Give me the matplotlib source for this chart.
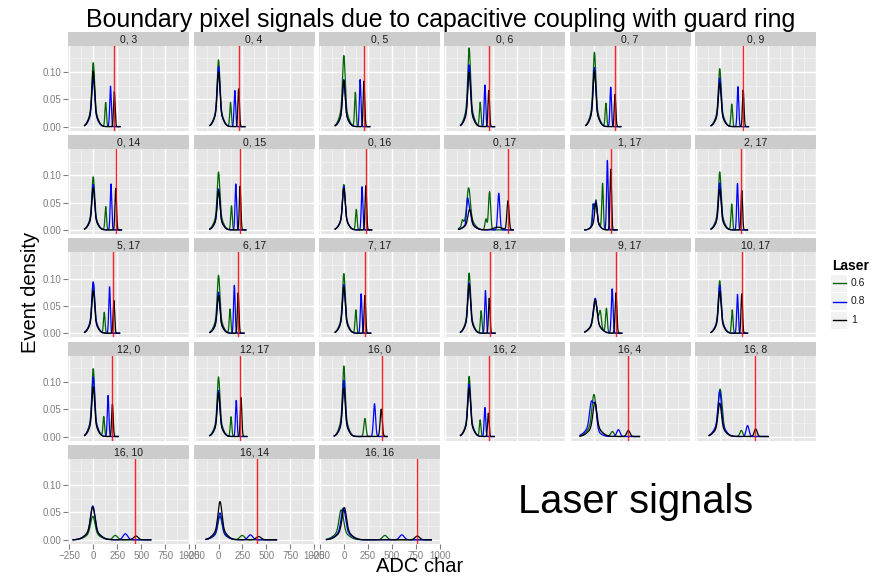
import numpy as np
import matplotlib
matplotlib.use("Agg")
import matplotlib.pyplot as plt
from matplotlib.patches import Rectangle
from matplotlib.lines import Line2D

plt.rcParams['font.family'] = ['Liberation Sans', 'DejaVu Sans']

# ---------------- data ----------------
panel_labels = ["0, 3", "0, 4", "0, 5", "0, 6", "0, 7", "0, 9",
                "0, 14", "0, 15", "0, 16", "0, 17", "1, 17", "2, 17",
                "5, 17", "6, 17", "7, 17", "8, 17", "9, 17", "10, 17",
                "12, 0", "12, 17", "16, 0", "16, 2", "16, 4", "16, 8",
                "16, 10", "16, 14", "16, 16"]

# laser-signal reference position (red line), ADC channel
red_line = [215, 215, 210, 210, 215, 240,
            240, 220, 230, 405, 170, 225,
            210, 205, 220, 215, 225, 230,
            195, 225, 395, 205, 345, 368,
            440, 404, 766]

laser_levels = ["0.6", "0.8", "1"]
laser_colors = ["#006400", "#0000FF", "#000000"]

# pedestal peak heights (density) per laser level
ped_h_06 = [.117, .122, .130, .144, .136, .106, .097, .106, .083, .077, .055, .106,
            .0925, .106, .109, .110, .058, .096, .124, .109, .129, .110, .077, .077,
            .043, .043, .055]
ped_h_08 = [.090, .110, .086, .113, .108, .089, .083, .075, .080, .040, .052, .086,
            .094, .075, .089, .092, .064, .0875, .109, .084, .103, .096, .064, .083,
            .062, .049, .058]
ped_h_1 = [.102, .100, .084, .099, .102, .080, .077, .072, .076, .0375, .049, .074,
           .078, .069, .085, .089, .061, .076, .091, .080, .089, .089, .062, .061,
           .060, .070, .059]
# pedestal peak positions per laser level
ped_pos_06 = [0] * 9 + [-5, 15] + [0] * 5 + [10] + [0] * 5 + [-5, 0, -5, 15, -27]
ped_pos_08 = [0] * 9 + [0, 15] + [0] * 5 + [8] + [0] * 5 + [-30, 0, -5, 15, -5]
ped_pos_1 = [0] * 9 + [5, 15] + [0] * 5 + [8] + [0] * 5 + [5, 0, -5, 15, 5]

# signal peak positions per laser level
sig_pos_06 = [130, 125, 120, 115, 120, 125, 130, 135, 130, 213, 85, 125,
              115, 120, 125, 125, 125, 130, 110, 130, 220, 115, 187, 225,
              230, 246, 428]
sig_pos_08 = [180, 170, 170, 165, 170, 190, 185, 180, 190, 309, 135, 185,
              170, 165, 180, 170, 185, 185, 155, 185, 320, 165, 250, 290,
              335, 332, 605]
sig_pos_1 = [220, 210, 210, 205, 215, 245, 235, 225, 230, 405, 170, 230,
             215, 205, 220, 210, 225, 230, 200, 235, 390, 200, 354, 375,
             445, 417, 766]
# signal peak heights per laser level
sig_h_06 = [.044, .044, .0625, .044, .0425, .041, .0425, .044, .0375, .070, .083, .047,
            .038, .044, .0425, .041, .044, .0425, .036, .036, .033, .030, .009, .011,
            .008, .008, .008]
sig_h_08 = [.074, .066, .086, .076, .072, .073, .084, .084, .079, .067, .127, .085,
            .085, .0875, .072, .078, .081, .071, .075, .066, .060, .053, .0125, .020,
            .011, .009, .009]
sig_h_1 = [.064, .069, .083, .066, .059, .067, .076, .080, .081, .053, .111, .072,
           .060, .074, .069, .064, .074, .072, .059, .071, .050, .0425, .011, .014,
           .007, .006, .007]

# peak widths (ADC channels) and data range per panel
ped_width = [13] * 9 + [17, 12] + [13] * 5 + [18] + [13] * 5 + [20, 17, 22, 20, 22]
sig_width = [8] * 9 + [11, 8] + [8] * 5 + [9] + [8] * 3 + [11, 8, 17, 15, 24, 25, 24]
range_lo = [-90, -90, -90, -90, -90, -90, -90, -90, -90, -110, -100, -90,
            -90, -90, -90, -90, -100, -90, -90, -90, -100, -90, -150, -110,
            -210, -130, -181]
range_hi = [280, 275, 270, 265, 275, 300, 295, 285, 290, 460, 235, 290,
            275, 265, 280, 270, 285, 290, 260, 295, 450, 260, 470, 505,
            600, 605, 913]

# extra features: (panel index, laser index, position, height, width)
extra_peaks = [(9, 0, -70, .009, 8), (9, 0, 175, .020, 10), (9, 1, -18, .030, 9),
               (9, 2, 300, .005, 45), (10, 0, -15, .035, 8), (10, 1, -10, .030, 8),
               (16, 0, 60, .030, 12), (22, 1, 10, .040, 15), (23, 0, 20, .02, 15)]

x_ticks = [-250, 0, 250, 500, 750, 1000]
x_tick_labels = ["\u2212250", "0", "250", "500", "750", "1000"]
y_ticks = [0.0, 0.05, 0.10]
y_tick_labels = ["0.00", "0.05", "0.10"]

# ---------------- figure ----------------
W, H = 875, 576
fig = plt.figure(figsize=(W / 100, H / 100), dpi=100)


def fx(px):
    return px / W


def fy(py):
    return 1 - py / H


xs = np.linspace(-300, 1050, 2701)


def ped_shape(x, mu, h, s):
    return h * (0.72 * np.exp(-0.5 * ((x - mu) / s) ** 2)
                + 0.28 * np.exp(-0.5 * ((x - mu) / (3 * s)) ** 2))


def sig_shape(x, mu, h, s):
    return h * np.exp(-0.5 * ((x - mu) / s) ** 2)


ped_h = [ped_h_06, ped_h_08, ped_h_1]
ped_pos = [ped_pos_06, ped_pos_08, ped_pos_1]
sig_pos = [sig_pos_06, sig_pos_08, sig_pos_1]
sig_h = [sig_h_06, sig_h_08, sig_h_1]

grey50 = "#7F7F7F"
for i, lab in enumerate(panel_labels):
    r, c = divmod(i, 6)
    left = 68.3 + c * 125.3
    strip_top = 31.7 + r * 103.3
    ax_top = strip_top + 14
    ax = fig.add_axes([fx(left), fy(ax_top + 85), 121 / W, 85 / H])
    sax = fig.add_axes([fx(left), fy(ax_top), 121 / W, 14 / H])
    sax.set_facecolor("#CCCCCC")
    sax.set_xticks([])
    sax.set_yticks([])
    for sp in sax.spines.values():
        sp.set_visible(False)
    sax.text(0.5, 0.45, lab, ha="center", va="center", fontsize=7.5,
             color="#1A1A1A", transform=sax.transAxes)

    ax.set_facecolor("#E5E5E5")
    for sp in ax.spines.values():
        sp.set_visible(False)
    ax.set_xlim(-260, 1002)
    ax.set_ylim(-0.0075, 0.148)
    ax.set_xticks(x_ticks)
    ax.set_xticks([-125, 125, 375, 625, 875], minor=True)
    ax.set_yticks(y_ticks)
    ax.set_yticks([0.025, 0.075, 0.125], minor=True)
    ax.grid(which="minor", color="#F2F2F2", lw=0.5)
    ax.grid(which="major", color="white", lw=1.0)
    ax.set_axisbelow(True)
    ax.tick_params(which="minor", length=0)

    if c == 0:
        ax.set_yticklabels(y_tick_labels)
        ax.tick_params(axis="y", which="major", length=3.3, width=0.8, color=grey50,
                       labelsize=7, labelcolor=grey50, pad=2)
    else:
        ax.tick_params(axis="y", which="major", length=0, labelleft=False)
    if i >= 24:
        ax.set_xticklabels(x_tick_labels)
        ax.tick_params(axis="x", which="major", length=3.3, width=0.8, color=grey50,
                       labelsize=7, labelcolor=grey50, pad=1.5)
    else:
        ax.tick_params(axis="x", which="major", length=0, labelbottom=False)

    m = (xs >= range_lo[i]) & (xs <= range_hi[i])
    xx = xs[m]
    for k in range(3):
        yy = ped_shape(xx, ped_pos[k][i], ped_h[k][i], ped_width[i]) \
            + sig_shape(xx, sig_pos[k][i], sig_h[k][i], sig_width[i])
        for (pi, lk, mu, h, s) in extra_peaks:
            if pi == i and lk == k:
                yy = yy + sig_shape(xx, mu, h, s)
        ax.plot(xx, yy, color=laser_colors[k], lw=0.9, zorder=3 + k)
    ax.axvline(red_line[i], color="#FF0000", lw=1.0, alpha=0.85, zorder=7)

# titles and labels
fig.text(fx(440.5), fy(26.7), "Boundary pixel signals due to capacitive coupling with guard ring",
         ha="center", va="baseline", fontsize=17.9, color="black")
fig.text(fx(31), fy(292), "Event density", rotation=90, ha="center", va="center",
         fontsize=14.5, color="black")
fig.text(fx(376), fy(572), "ADC char", ha="left", va="baseline", fontsize=14.5,
         color="black")
fig.text(fx(636), fy(513), "Laser signals", ha="center", va="baseline",
         fontsize=28.7, color="black")

# legend
fig.text(fx(832), fy(270), "Laser", ha="left", va="baseline", fontsize=10,
         fontweight="bold", color="black")
key_y = [283, 301.5, 320]
for k in range(3):
    fig.add_artist(Rectangle((fx(831), fy(key_y[k] + 8.5)), 16 / W, 17 / H,
                             transform=fig.transFigure, facecolor="#F2F2F2",
                             edgecolor="none"))
    fig.add_artist(Line2D([fx(832.5), fx(845.5)], [fy(key_y[k]), fy(key_y[k])],
                          transform=fig.transFigure, color=laser_colors[k], lw=1.0))
    fig.text(fx(851), fy(key_y[k]), laser_levels[k], ha="left", va="center",
             fontsize=7.5, color="#1A1A1A")

fig.savefig("out.png", dpi=100)
